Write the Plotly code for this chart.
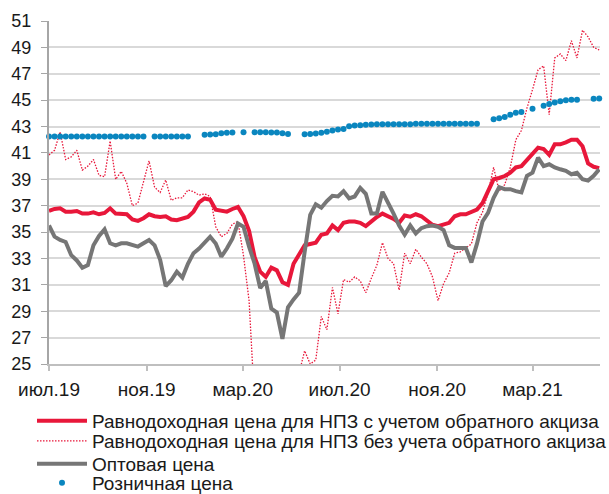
import pandas as pd
import plotly.graph_objects as go

# weekly observation dates
dates = pd.date_range("2019-07-01", periods=100, freq="7D")

# Равнодоходная цена для НПЗ с учетом обратного акциза
with_excise = [
    36.6, 36.75, 36.8, 36.55, 36.55, 36.6, 36.4, 36.4, 36.5, 36.35,
    36.45, 36.8, 36.4, 36.35, 36.35, 35.95, 35.85, 36.05, 36.35, 36.2,
    36.15, 36.2, 35.95, 35.9, 36.05, 36.15, 36.55, 37.25, 37.55, 37.45,
    36.7, 36.6, 36.55, 36.75, 36.9, 36.2, 35.1, 33.1, 32.0, 31.6,
    32.3, 32.1, 31.2, 31.0, 32.6, 33.3, 34.0, 34.1, 34.2, 34.8,
    34.9, 35.5, 35.15, 35.7, 35.8, 35.8, 35.7, 35.45, 35.8, 36.15,
    36.4, 36.2, 36.0, 35.7, 36.25, 36.16, 36.35, 36.2, 35.9, 35.55,
    35.45, 35.6, 35.7, 36.2, 36.35, 36.35, 36.5, 36.7, 37.2, 38.1,
    39.0, 39.1, 39.25, 39.5, 39.9, 40.0, 40.5, 41.0, 41.4, 41.3,
    40.85, 41.65, 41.65, 41.8, 42.0, 42.0, 41.5, 40.2, 39.95, 39.85,
]

# Равнодоходная цена для НПЗ без учета обратного акциза
without_excise = [
    40.85, 41.2, 42.6, 40.5, 40.7, 41.2, 39.7, 40.0, 40.5, 39.3,
    39.2, 41.9, 39.0, 39.6, 38.7, 37.0, 37.2, 38.7, 40.4, 38.4,
    38.0, 38.95, 37.4, 37.6, 37.6, 38.2, 38.06, 37.8, 37.9, 37.7,
    35.4, 34.65, 34.9, 35.6, 35.8, 33.2, 29.8, 22.0, 18.0, 16.0,
    17.0, 19.0, 21.0, 23.0, 23.5, 24.3, 26.0, 25.0, 25.3, 28.6,
    27.6, 30.8, 28.8, 31.4, 31.2, 31.6, 31.3, 30.4, 31.5, 32.5,
    34.2, 33.0, 32.6, 30.6, 33.4, 32.6, 33.7, 33.1, 32.6, 31.6,
    29.8, 31.1, 31.9, 33.4, 33.5, 33.8, 34.1, 35.7, 36.5, 38.0,
    39.9, 38.1, 38.6, 39.9, 42.0, 42.7, 44.4, 45.8, 47.3, 47.6,
    43.9, 48.2, 48.5, 48.0, 49.5, 48.2, 50.3, 49.8, 49.0, 48.8,
]

# Оптовая цена
wholesale = [
    35.5, 34.65, 34.4, 34.25, 33.25, 32.85, 32.3, 32.5, 34.0, 34.7,
    35.2, 34.15, 34.0, 34.15, 34.15, 34.0, 33.9, 34.15, 34.4, 34.0,
    32.9, 30.9, 31.35, 32.0, 31.55, 32.6, 33.4, 33.75, 34.2, 34.65,
    34.14, 33.13, 33.75, 34.5, 35.66, 35.4, 33.9, 32.6, 30.75, 31.3,
    29.2, 28.9, 26.9, 29.3, 29.9, 30.4, 33.5, 36.3, 37.1, 36.85,
    37.35, 37.75, 37.7, 38.1, 37.56, 37.7, 38.35, 37.9, 36.4, 36.4,
    38.05, 37.3, 36.4, 35.5, 34.8, 35.5, 34.9, 35.3, 35.45, 35.5,
    35.4, 35.15, 34.0, 33.8, 33.8, 33.8, 32.7, 34.1, 35.8, 36.45,
    37.6, 38.4, 38.25, 38.25, 38.1, 38.0, 39.26, 39.5, 40.64, 40.0,
    40.14, 39.9, 39.76, 39.64, 39.38, 39.5, 39.0, 38.9, 39.26, 39.76,
]

# Розничная цена (None = no observation that week)
retail = (
    [42.24] * 18 + [None] + [42.24] * 7 + [None, None]
    + [42.37, 42.40, 42.42, 42.50, 42.52, 42.54, None, 42.57, None,
       42.57, 42.57, 42.57, 42.55, 42.54, 42.49, 42.44, None, None,
       42.42, 42.44, 42.47, 42.52, 42.60, 42.70, 42.77, 42.82, 43.03,
       43.08, 43.10, 43.13, 43.15]
    + [43.18] * 7 + [43.22] * 12
    + [None, None, 43.56, 43.63, 43.73, 43.89, 44.04, 44.11, None, 44.34,
       None, 44.57, 44.70, 44.82, 44.92, 45.00, 45.03, 45.03, None, None,
       45.10, 45.13]
)

x_tick_dates = ["2019-07-01", "2019-11-01", "2020-03-01",
                "2020-07-01", "2020-11-01", "2021-03-01"]
x_tick_labels = ["июл.19", "ноя.19", "мар.20", "июл.20", "ноя.20", "мар.21"]
y_ticks = list(range(25, 52, 2))

names = [
    "Равнодоходная цена для НПЗ с учетом обратного акциза",
    "Равнодоходная цена для НПЗ без учета обратного акциза",
    "Оптовая цена",
    "Розничная цена",
]

RED = "#E8173A"
GREY = "#767676"
BLUE = "#0A86BF"
FONT = "Liberation Sans, Arial, sans-serif"
TXT = "#1a1a1a"

fig = go.Figure()
fig.add_trace(go.Scatter(x=dates, y=with_excise, mode="lines", name=names[0],
                         line=dict(color=RED, width=4), legend="legend"))
fig.add_trace(go.Scatter(x=dates, y=without_excise, mode="lines", name=names[1],
                         line=dict(color=RED, width=1.3, dash="1.5px,1.5px"),
                         legend="legend2"))
fig.add_trace(go.Scatter(x=dates, y=wholesale, mode="lines", name=names[2],
                         line=dict(color=GREY, width=4), legend="legend3"))
fig.add_trace(go.Scatter(x=dates, y=retail, mode="markers", name=names[3],
                         marker=dict(color=BLUE, size=6), cliponaxis=False,
                         legend="legend4"))

PLOT_TOP, PLOT_BOT, PLOT_L, PLOT_W = 21, 364, 49, 551


def leg(py):
    return dict(x=(32 - PLOT_L) / PLOT_W, y=(PLOT_BOT - py) / (PLOT_BOT - PLOT_TOP),
                xanchor="left", yanchor="middle", itemwidth=50,
                font=dict(size=19, family=FONT, color=TXT),
                bgcolor="rgba(0,0,0,0)", borderwidth=0)


fig.update_layout(
    width=609, height=494,
    margin=dict(l=PLOT_L, r=609 - PLOT_L - PLOT_W, t=PLOT_TOP, b=494 - PLOT_BOT,
                autoexpand=False),
    paper_bgcolor="white", plot_bgcolor="white",
    font=dict(family=FONT, size=18, color=TXT),
    showlegend=True,
    legend=leg(421), legend2=leg(441), legend3=leg(464), legend4=leg(483),
    xaxis=dict(range=["2019-07-01", "2021-05-25"], showgrid=False,
               showline=True, linecolor="#BFBFBF", linewidth=2,
               ticks="outside", ticklen=5, tickcolor="#BFBFBF", tickwidth=1.5,
               tickvals=x_tick_dates, ticktext=x_tick_labels,
               tickfont=dict(size=19, family=FONT, color=TXT),
               ticklabelstandoff=2),
    yaxis=dict(range=[25, 51], tickvals=y_ticks, showgrid=True,
               gridcolor="#D9D9D9", gridwidth=1.5,
               showline=True, linecolor="#A6A6A6", linewidth=2,
               ticks="outside", ticklen=6, tickcolor="#A6A6A6",
               tickfont=dict(size=18, family=FONT, color=TXT),
               ticklabelstandoff=6, zeroline=False),
)

fig.write_html("out.html", config={"displayModeBar": False},
               post_script="document.body.style.margin='0';")
